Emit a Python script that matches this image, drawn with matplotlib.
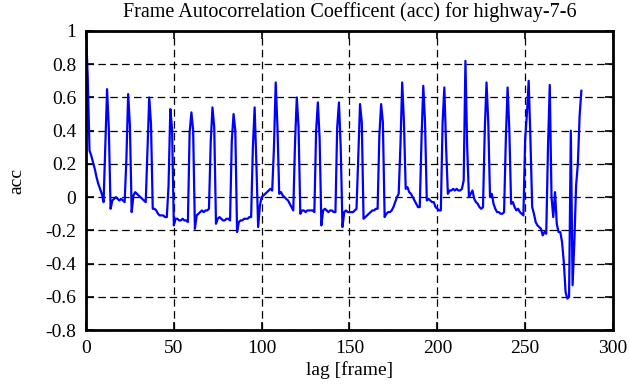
import matplotlib
matplotlib.use("Agg")
import matplotlib.pyplot as plt
import numpy as np

# autocorrelation per lag (lag 0..282)
acc = [
    1.00, 0.72, 0.28, 0.25, 0.21, 0.17, 0.12, 0.08, 0.05, 0.02, -0.03, 0.30,
    0.65, 0.41, -0.07, -0.02, -0.01, 0.00, -0.01, -0.02, -0.01, -0.02, -0.03, 0.23,
    0.62, 0.43, -0.09, 0.01, 0.03, 0.02, 0.01, 0.00, -0.01, -0.02, -0.03, 0.28,
    0.60, 0.44, -0.07, -0.07, -0.08, -0.10, -0.11, -0.11, -0.11, -0.12, -0.12, 0.07,
    0.53, 0.41, -0.17, -0.13, -0.13, -0.14, -0.14, -0.13, -0.14, -0.14, -0.15, 0.39,
    0.51, 0.40, -0.19, -0.11, -0.10, -0.09, -0.08, -0.09, -0.08, -0.08, -0.07, 0.33,
    0.54, 0.42, -0.16, -0.13, -0.12, -0.13, -0.14, -0.14, -0.13, -0.13, -0.14, 0.34,
    0.50, 0.40, -0.21, -0.15, -0.14, -0.14, -0.13, -0.13, -0.13, -0.12, -0.12, 0.30,
    0.54, 0.20, -0.18, -0.05, 0.00, 0.01, 0.02, 0.03, 0.04, 0.05, 0.04, 0.30,
    0.69, 0.42, 0.02, 0.03, 0.01, 0.00, -0.01, -0.02, -0.04, -0.06, -0.08, 0.33,
    0.60, 0.42, -0.10, -0.08, -0.08, -0.09, -0.08, -0.08, -0.08, -0.08, -0.09, 0.40,
    0.57, 0.35, -0.17, -0.08, -0.07, -0.08, -0.09, -0.08, -0.08, -0.09, -0.09, 0.42,
    0.57, 0.30, -0.18, -0.09, -0.08, -0.09, -0.09, -0.09, -0.09, -0.08, -0.07, 0.25,
    0.56, 0.45, -0.13, -0.12, -0.11, -0.10, -0.09, -0.08, -0.08, -0.07, -0.07, 0.37,
    0.56, 0.45, -0.12, -0.10, -0.09, -0.09, -0.08, -0.06, -0.03, 0.00, 0.02, 0.31,
    0.69, 0.45, 0.05, 0.06, 0.03, 0.02, 0.00, -0.02, -0.04, -0.06, -0.06, 0.35,
    0.67, 0.45, -0.02, -0.01, -0.02, -0.03, -0.03, -0.06, -0.07, -0.08, -0.08, 0.45,
    0.66, 0.30, 0.02, 0.04, 0.04, 0.05, 0.04, 0.05, 0.04, 0.04, 0.05, 0.10,
    0.82, 0.30, 0.00, 0.02, 0.04, -0.01, -0.03, -0.04, -0.06, -0.07, -0.06, 0.40,
    0.69, 0.45, 0.00, 0.02, -0.04, -0.07, -0.09, -0.09, -0.10, -0.10, -0.09, 0.35,
    0.66, 0.40, -0.04, -0.03, -0.06, -0.08, -0.07, -0.09, -0.10, -0.11, 0.35, 0.50,
    0.70, 0.35, -0.06, -0.10, -0.15, -0.17, -0.18, -0.19, -0.23, -0.21, -0.22, 0.30,
    0.675, 0.00, -0.12, 0.03, -0.16, -0.21, -0.21, -0.27, -0.39, -0.57, -0.61, -0.60,
    0.40, -0.53, -0.27, 0.07, 0.20, 0.49, 0.64,
]
lags = np.arange(len(acc))

yticks = [-0.8, -0.6, -0.4, -0.2, 0, 0.2, 0.4, 0.6, 0.8, 1]
ytick_labels = ["-0.8", "-0.6", "-0.4", "-0.2", "0", "0.2", "0.4", "0.6", "0.8", "1"]
xticks = [0, 50, 100, 150, 200, 250, 300]

plt.rcParams['font.family'] = ['Liberation Serif', 'DejaVu Serif']
plt.rcParams['font.size'] = 14

fig = plt.figure(figsize=(6.3, 3.87), dpi=100)
ax = fig.add_axes([0.1365, 0.147, 0.8365, 0.773])

ax.plot(lags, acc, color="#0000ff", lw=1.6)

ax.set_xlim(0, 300)
ax.set_ylim(-0.8, 1)
ax.set_xticks(xticks)
ax.set_xticklabels([str(t) for t in xticks])
ax.set_yticks(yticks)
ax.set_yticklabels(ytick_labels)

ax.grid(True, color="black", linestyle=(0, (6, 3.5)), linewidth=0.9)
ax.tick_params(direction="in", length=6, width=1.2, top=True, right=True,
               pad=7, labelsize=14)
for s in ax.spines.values():
    s.set_linewidth(2)

ax.set_title("Frame Autocorrelation Coefficent (acc) for highway-7-6", fontsize=14.5, pad=10)
ax.set_xlabel("lag [frame]", fontsize=14, labelpad=3)
ax.set_ylabel("acc", fontsize=14, labelpad=14)

plt.savefig("out.png", dpi=100)
